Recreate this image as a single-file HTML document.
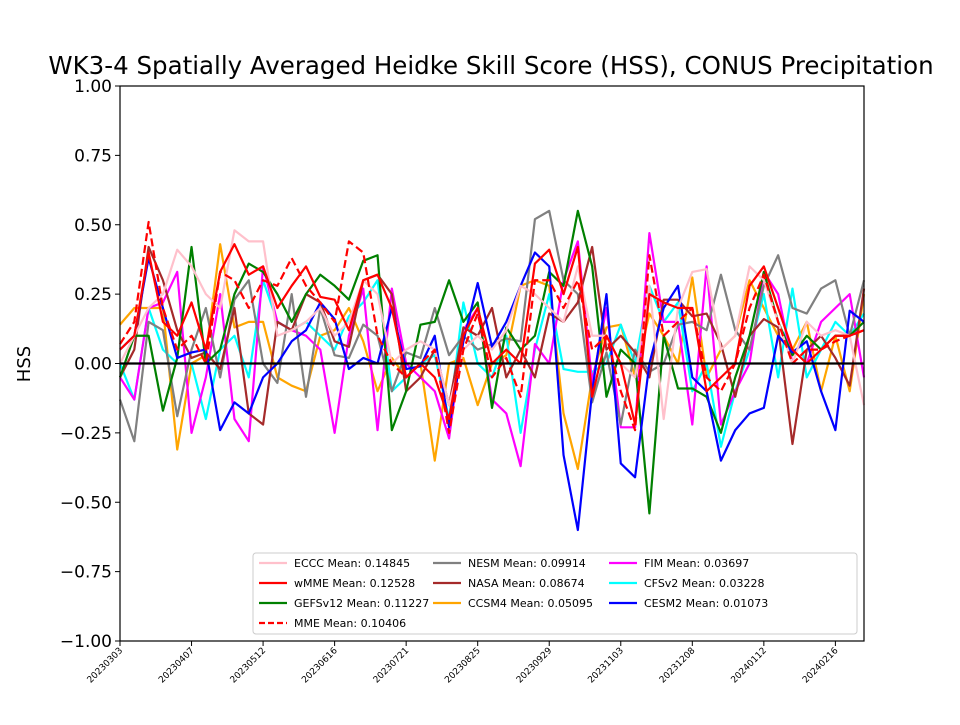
<!DOCTYPE html>
<html><head><meta charset="utf-8"><style>
body{margin:0;background:#fff;font-family:"Liberation Sans","DejaVu Sans",sans-serif}
</style></head><body>
<svg id="chart" width="960" height="720" xmlns="http://www.w3.org/2000/svg" style="font-family:'DejaVu Sans','Liberation Sans',sans-serif">
<rect width="960" height="720" fill="#fff"/>
<text x="491" y="74" font-size="24.5" text-anchor="middle">WK3-4 Spatially Averaged Heidke Skill Score (HSS), CONUS Precipitation</text>
<text transform="translate(30,364) rotate(-90)" font-size="18" text-anchor="middle">HSS</text>
<g id="plot"></g>
</svg>
<script>
const xTickLabels=["20230303","20230407","20230512","20230616","20230721","20230825","20230929","20231103","20231208","20240112","20240216"];
const yTicks=[1,0.75,0.5,0.25,0,-0.25,-0.5,-0.75,-1];
const names=["ECCC","wMME","GEFSv12","MME","NESM","NASA","CCSM4","FIM","CFSv2","CESM2"];
const means=["0.14845","0.12528","0.11227","0.10406","0.09914","0.08674","0.05095","0.03697","0.03228","0.01073"];
const eccc=[0.0,0.1,0.2,0.25,0.41,0.35,0.25,0.2,0.48,0.44,0.44,0.1,0.12,0.15,0.2,0.1,0.15,0.3,0.25,0.0,0.05,0.08,0.05,-0.15,0.05,0.1,0.05,0.12,0.28,0.25,0.2,0.15,0.35,0.1,0.1,0.0,-0.05,0.28,-0.2,0.2,0.33,0.34,0.05,0.1,0.35,0.3,0.15,0.0,0.15,0.1,0.12,0.1,-0.15];
const wmme=[0.05,0.1,0.4,0.15,0.1,0.22,0.05,0.33,0.43,0.32,0.35,0.2,0.28,0.35,0.24,0.23,0.12,0.3,0.32,0.2,-0.05,0.0,-0.05,-0.2,0.1,0.2,0.0,0.05,0.0,0.36,0.41,0.25,0.42,-0.12,0.1,0.0,-0.22,0.25,0.22,0.2,0.2,-0.1,-0.05,0.0,0.28,0.35,0.2,0.05,0.0,0.05,0.1,0.1,0.12];
const gefs=[-0.05,0.1,0.1,-0.17,0.02,0.42,0.0,0.05,0.25,0.36,0.33,0.25,0.15,0.25,0.32,0.28,0.23,0.37,0.39,-0.24,-0.1,0.14,0.15,0.3,0.15,0.22,-0.16,0.13,0.05,0.1,0.33,0.28,0.55,0.35,-0.12,0.05,0.0,-0.54,0.1,-0.09,-0.09,-0.12,-0.25,-0.05,0.1,0.33,0.15,0.03,0.1,0.05,0.1,0.1,0.15];
const mme=[0.07,0.15,0.51,0.2,0.05,0.1,0.0,0.33,0.3,0.2,0.3,0.28,0.38,0.28,0.22,0.15,0.44,0.4,0.1,0.0,-0.05,0.0,0.05,-0.25,0.05,0.18,-0.05,0.02,-0.12,0.3,0.3,0.2,0.3,0.05,0.1,-0.1,-0.24,0.39,0.1,0.15,0.2,-0.05,-0.1,0.0,0.2,0.32,0.15,0.0,0.05,0.05,0.08,0.1,0.12];
const nesm=[-0.13,-0.28,0.15,0.12,-0.19,0.05,0.2,-0.05,0.23,0.3,0.0,-0.07,0.25,-0.12,0.2,0.03,0.02,0.14,0.1,-0.1,0.04,0.02,0.2,0.03,0.1,0.05,0.07,0.09,0.08,0.52,0.55,0.3,0.25,-0.14,0.04,-0.22,0.05,-0.03,0.0,0.14,0.15,0.12,0.32,0.12,0.05,0.28,0.39,0.2,0.18,0.27,0.3,0.1,0.3];
const nasa=[-0.05,0.05,0.42,0.3,0.12,0.02,0.04,-0.02,0.2,-0.18,-0.22,0.15,0.12,0.25,0.22,0.08,0.06,0.3,0.32,0.25,-0.1,-0.05,0.05,-0.15,0.13,0.1,0.2,-0.05,0.05,-0.05,0.18,0.15,0.22,0.42,0.05,0.1,0.04,-0.05,0.23,0.23,0.17,0.18,0.07,-0.12,0.1,0.16,0.13,-0.29,0.05,0.1,0.02,-0.08,0.27];
const ccsm4=[0.14,0.2,0.2,0.2,-0.31,0.0,0.03,0.43,0.13,0.15,0.15,-0.05,-0.08,-0.1,0.1,0.12,0.2,0.08,-0.1,0.02,-0.05,0.0,-0.35,0.0,0.02,-0.15,0.0,0.03,0.28,0.3,0.28,-0.18,-0.38,-0.05,0.13,0.14,-0.05,0.18,0.1,0.0,0.31,-0.05,0.05,0.1,0.3,0.2,0.1,0.05,0.15,-0.1,0.1,-0.1,0.25];
const fim=[-0.05,-0.13,0.2,0.22,0.33,-0.25,-0.05,0.25,-0.2,-0.28,0.35,0.15,0.12,0.1,0.05,-0.25,0.1,0.27,-0.24,0.27,0.0,-0.05,-0.1,-0.27,0.12,0.2,-0.13,-0.18,-0.37,0.07,0.0,0.3,0.44,-0.07,0.2,-0.23,-0.23,0.47,0.15,0.15,-0.22,0.35,-0.22,-0.1,0.0,0.33,0.25,0.0,0.0,0.15,0.2,0.25,-0.05];
const cfsv2=[0.0,-0.13,0.2,0.05,0.0,0.0,-0.2,0.05,0.1,-0.05,0.3,0.15,0.12,0.15,0.1,0.05,0.17,0.22,0.3,-0.1,-0.05,0.0,0.03,-0.2,0.22,0.0,-0.05,0.1,-0.25,0.05,0.25,-0.02,-0.03,-0.03,0.0,0.14,0.0,0.28,0.15,0.22,-0.1,0.0,-0.3,-0.1,0.05,0.25,-0.05,0.27,-0.05,0.05,0.15,0.1,0.18];
const cesm2=[0.05,0.1,0.38,0.2,0.02,0.04,0.05,-0.24,-0.14,-0.18,-0.05,0.0,0.08,0.12,0.22,0.16,-0.02,0.02,0.0,0.2,-0.02,-0.01,0.1,-0.23,0.08,0.29,0.06,0.15,0.28,0.4,0.35,-0.33,-0.6,-0.1,0.25,-0.36,-0.41,0.0,0.2,0.28,-0.05,-0.1,-0.35,-0.24,-0.18,-0.16,0.1,0.04,0.08,-0.1,-0.24,0.19,0.15];

const NS="http://www.w3.org/2000/svg";
const L=120,R=864,T=86,B=641,N=53;
const xs=i=>L+i*(R-L)/(N-1);
const ys=v=>T+(1-v)/2*(B-T);
const g=document.getElementById('plot');
function mk(t,a,p){const e=document.createElementNS(NS,t);for(const k in a)e.setAttribute(k,a[k]);(p||g).appendChild(e);return e;}
const series=[
 {d:ccsm4,c:"#ffa500",n:"ccsm4"},{d:cfsv2,c:"#00ffff",n:"cfsv2"},{d:fim,c:"#ff00ff",n:"fim"},
 {d:nesm,c:"#808080",n:"nesm"},{d:nasa,c:"#a52a2a",n:"nasa"},{d:gefs,c:"#008000",n:"gefsv12"},
 {d:cesm2,c:"#0000ff",n:"cesm2"},{d:eccc,c:"#ffc0cb",n:"eccc"},{d:wmme,c:"#ff0000",n:"wmme"},
 {d:mme,c:"#ff0000",n:"mme",dash:"8,4"}];
series.forEach(s=>{
 const p=mk('polyline',{points:s.d.map((v,i)=>xs(i)+','+ys(v)).join(' '),fill:'none',stroke:s.c,'stroke-width':2.2,'stroke-linejoin':'round'});
 if(s.dash)p.setAttribute('stroke-dasharray',s.dash);
 
 
});
const zl=mk('line',{x1:L,x2:R,y1:ys(0),y2:ys(0),stroke:'#000','stroke-width':2.2});


const fr=mk('rect',{x:L,y:T,width:R-L,height:B-T,fill:'none',stroke:'#000','stroke-width':1.2});


yTicks.forEach(v=>{
 mk('line',{x1:L-5,x2:L,y1:ys(v),y2:ys(v),stroke:'#000'});
 const t=mk('text',{x:L-8,y:ys(v)+6,'font-size':17,'text-anchor':'end'});t.textContent=v.toFixed(2).replace('-','\u2212');
 
 
});
xTickLabels.forEach((lab,k)=>{
 const x=xs(k*5);
 mk('line',{x1:x,x2:x,y1:B,y2:B+5,stroke:'#000'});
 const t=mk('text',{transform:`translate(${x+3},${B+10}) rotate(-45)`,'font-size':9,'text-anchor':'end'});t.textContent=lab;
 
 
});
const lg=mk('g',{});


mk('rect',{x:253,y:553,width:604,height:81,rx:3,fill:'#fff','fill-opacity':0.85,stroke:'#ccc'},lg);
const legOrder=[["ECCC","#ffc0cb",0],["wMME","#ff0000",0],["GEFSv12","#008000",0],["MME","#ff0000",1],
["NESM","#808080",0],["NASA","#a52a2a",0],["CCSM4","#ffa500",0],
["FIM","#ff00ff",0],["CFSv2","#00ffff",0],["CESM2","#0000ff",0]];
const colX=[259,433,609],rowY=[563,583,603,623];
legOrder.forEach((e,i)=>{
 const col=i<4?0:(i<7?1:2),row=i<4?i:(i<7?i-4:i-7);
 const x=colX[col],y=rowY[row];
 const ln=mk('line',{x1:x,x2:x+28,y1:y,y2:y,stroke:e[1],'stroke-width':2.2},lg);
 if(e[2])ln.setAttribute('stroke-dasharray','6,3');
 const t=mk('text',{x:x+35,y:y+4,'font-size':11},lg);
 t.textContent=e[0]+' Mean: '+means[names.indexOf(e[0])];
 
 
});
</script>
</body></html>
